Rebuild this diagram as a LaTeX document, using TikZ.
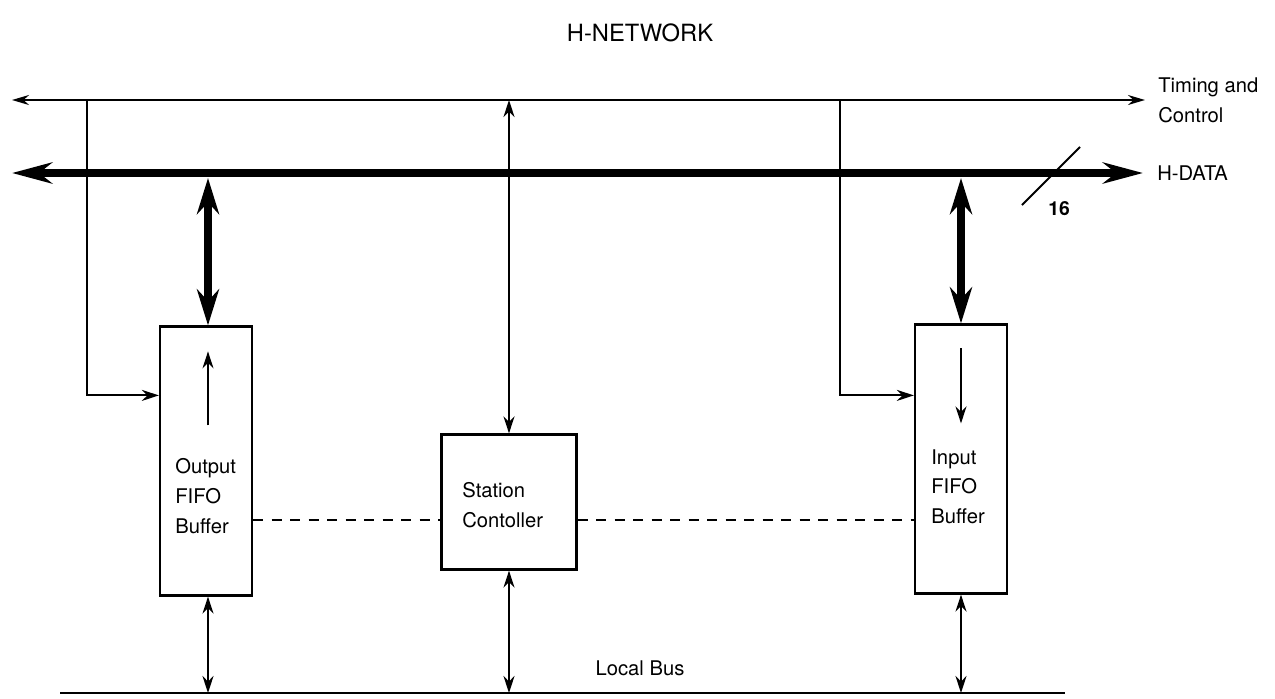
\documentclass[tikz,border=0pt]{standalone}
\usepackage{fontspec}
\setmainfont{TeX Gyre Heros}
\usetikzlibrary{positioning, arrows.meta, calc}

\begin{document}
\begin{tikzpicture}[
    x=0.02cm, y=-0.02cm,
    % FIFO buffer box (tall, narrow)
    fifo/.style={rectangle, draw, line width=1.3pt, minimum width=1.84cm, minimum height=5.38cm, inner sep=0pt},
    % Station controller box
    ctrlbox/.style={rectangle, draw, line width=1.3pt, minimum width=2.7cm, minimum height=2.7cm, inner sep=0pt},
    % Text inside boxes
    boxtext/.style={align=left, inner sep=0pt, font=\fontsize{11.5}{17}\selectfont},
    % Thin signal arrows
    sig/.style={line width=1.1pt, -{Stealth[length=0.34cm, width=0.22cm]}},
    bidir/.style={line width=1.1pt, {Stealth[length=0.34cm, width=0.22cm]}-{Stealth[length=0.34cm, width=0.22cm]}},
    % Wide data bus and its taps
    bus/.style={line width=5pt, {Stealth[length=0.8cm, width=0.42cm]}-{Stealth[length=0.8cm, width=0.42cm]}},
    tap/.style={line width=4pt, {Stealth[length=0.72cm, width=0.44cm]}-{Stealth[length=0.72cm, width=0.44cm]}},
    % Dashed link to station controller
    link/.style={line width=1.1pt, dash pattern=on 0.2cm off 0.17cm},
    every node/.style={font=\fontsize{11.5}{17}\selectfont},
]

\useasboundingbox (0,0) rectangle (1275,698);

% ============================================================
% Title
% ============================================================
\node[font=\fontsize{13.5}{16}\selectfont] (title) at (640,33) {H-NETWORK};

% ============================================================
% Bus end points
% ============================================================
\coordinate (tcL) at (12,100);
\coordinate (tcR) at (1145,100);
\coordinate (hdL) at (12,173);
\coordinate (hdR) at (1143,173);
\coordinate (lbL) at (60,693);
\coordinate (lbR) at (1065,693);
\coordinate (dashy) at (0,520);

% --- Timing and control line ---
\draw[line width=1.1pt, {Stealth[length=0.34cm, width=0.2cm]}-{Stealth[length=0.34cm, width=0.2cm]}] (tcL) -- (tcR);
\node[anchor=west, align=left, inner sep=0pt] (tclabel) at (1158,100) {Timing and\\Control};

% --- H-DATA bus ---
\draw[bus] (hdL) -- (hdR);
\node[anchor=west, inner sep=0pt] (hdlabel) at (1157,173) {H-DATA};
\draw[line width=1.1pt] (1022,205) -- (1080,147);
\node[font=\bfseries\fontsize{11}{13}\selectfont] (width) at (1059,209) {16};

% --- Local bus ---
\draw[line width=1.3pt] (lbL) -- (lbR);
\node (lblabel) at (640,668) {Local Bus};

% ============================================================
% Blocks
% ============================================================
\node[fifo] (outbuf) at (206,461) {};
\node[boxtext, anchor=north west] (outtxt) at (175,458) {Output\\FIFO\\Buffer};

\node[ctrlbox] (station) at (509,502) {};
\node[boxtext, anchor=north west] (sttxt) at (462,482) {Station\\Contoller};

\node[fifo] (inbuf) at (961,459) {};
\node[boxtext, anchor=north west] (intxt) at (931,449) {Input\\FIFO\\Buffer};

% --- Data direction inside buffers ---
\draw[sig] ($(outbuf.north)+(2,100)$) -- ($(outbuf.north)+(2,26)$);
\draw[sig] ($(inbuf.north)+(0,25)$) -- ($(inbuf.north)+(0,100)$);

% ============================================================
% Connections
% ============================================================
% H-DATA <-> buffers
\draw[tap] ($(outbuf.north |- hdL)+(2,5)$) -- ($(outbuf.north)+(2,0)$);
\draw[tap] ($(inbuf.north |- hdL)+(0,5)$) -- (inbuf.north);

% timing and control -> buffers
\coordinate (tapL) at (87,100);
\coordinate (tapR) at (840,100);
\draw[sig] (tapL) |- ($(outbuf.north west)+(0,70)$);
\draw[sig] (tapR) |- ($(inbuf.north west)+(0,72)$);

% timing and control <-> station controller
\draw[bidir] (station.north |- tcL) -- (station.north);

% buffers and controller <-> local bus
\draw[bidir] ($(outbuf.south)+(2,0)$) -- ($(outbuf.south |- lbL)+(2,0)$);
\draw[bidir] (station.south) -- (station.south |- lbL);
\draw[bidir] (inbuf.south) -- (inbuf.south |- lbL);

% dashed links
\draw[link] (outbuf.east |- dashy) -- (station.west |- dashy);
\draw[link] (station.east |- dashy) -- (inbuf.west |- dashy);

\end{tikzpicture}
\end{document}
